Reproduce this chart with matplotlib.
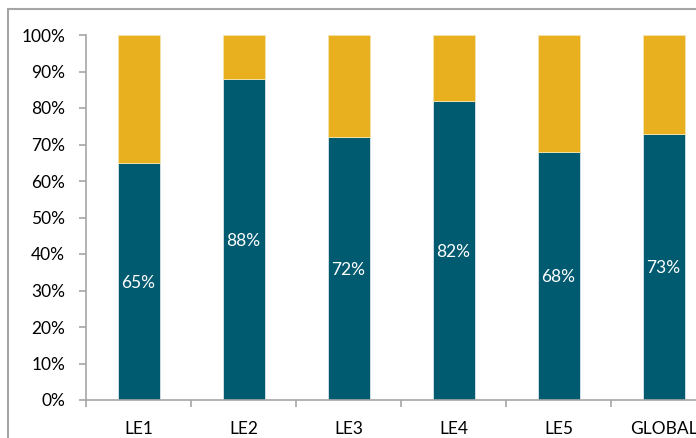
import matplotlib
matplotlib.use("Agg")
import matplotlib.pyplot as plt
from matplotlib.patches import Rectangle
from matplotlib.ticker import FixedLocator, PercentFormatter

categories = ["LE1", "LE2", "LE3", "LE4", "LE5", "GLOBAL"]
share_a = [0.65, 0.88, 0.72, 0.82, 0.68, 0.73]
share_b = [1 - v for v in share_a]
labels = ["65%", "88%", "72%", "82%", "68%", "73%"]

TEAL = "#005a70"
GOLD = "#e8b01e"
GRID = "#a6a6a6"

plt.rcParams['font.family'] = ['Lato', 'DejaVu Sans']

W, H = 696, 438
fig = plt.figure(figsize=(W / 100, H / 100), dpi=100)

# outer chart border (clipped by the image on right and bottom)
fig.patches.append(Rectangle((8 / W, -0.2), 2.0, (H - 9) / H + 0.2,
                             transform=fig.transFigure, fill=False,
                             edgecolor=GRID, linewidth=1.5))

ax = fig.add_axes([86 / W, 38 / H, 630 / W, 365 / H])
x = list(range(len(categories)))
ax.bar(x, share_a, width=0.4, color=TEAL, edgecolor="#d9e6ea", linewidth=0.6)
ax.bar(x, share_b, bottom=share_a, width=0.4, color=GOLD, edgecolor="#f5e3b0", linewidth=0.6)

for xi, v, lab in zip(x, share_a, labels):
    ax.text(xi, v / 2, lab, ha="center", va="center_baseline", color="white", fontsize=12.5)

ax.set_xlim(-0.5, len(categories) - 0.5)
ax.set_ylim(0, 1)
ax.yaxis.set_major_locator(FixedLocator([i / 10 for i in range(11)]))
ax.yaxis.set_major_formatter(PercentFormatter(1.0, decimals=0))
ax.set_xticks(x)
ax.set_xticklabels(categories)
ax.xaxis.set_minor_locator(FixedLocator([i - 0.5 for i in range(len(categories) + 1)]))

for s in ["top", "right"]:
    ax.spines[s].set_visible(False)
for s in ["left", "bottom"]:
    ax.spines[s].set_color(GRID)
    ax.spines[s].set_linewidth(1.2)

ax.tick_params(axis="y", which="major", direction="out", length=5, width=1.2,
               color=GRID, labelsize=12.5, labelcolor="black", pad=10)
ax.tick_params(axis="x", which="major", length=0, labelsize=12.5, labelcolor="black", pad=15)
ax.tick_params(axis="x", which="minor", direction="out", length=5, width=1.2, color=GRID)

fig.savefig("out.png", dpi=100)
